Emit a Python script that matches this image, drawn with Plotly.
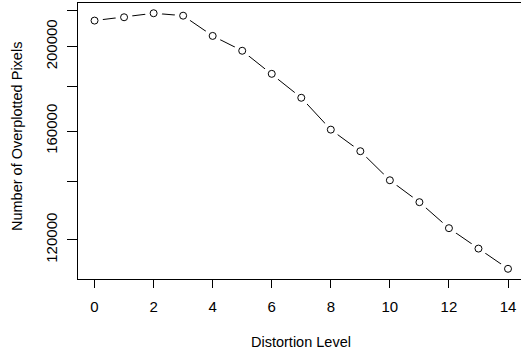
import plotly.graph_objects as go

distortion = list(range(15))
overplotted = [214200, 216100, 218400, 217000, 205700, 197800, 186100, 174700,
               160600, 151700, 140500, 132600, 123800, 117300, 111200]
x_ticks = [0, 2, 4, 6, 8, 10, 12, 14]
y_ticks = [120000, 140000, 160000, 180000, 200000, 220000]
y_tick_text = ["120000", "", "160000", "", "200000", ""]

FONT = "Liberation Sans, Arial, Helvetica, sans-serif"
FS = 15
TS = 14.5

fig = go.Figure()
fig.add_trace(go.Scatter(x=distortion, y=overplotted, mode="lines",
                         line=dict(color="black", width=1), hoverinfo="skip"))
fig.add_trace(go.Scatter(x=distortion, y=overplotted, mode="markers",
                         marker=dict(symbol="circle", size=17, color="white",
                                     line=dict(width=0)), hoverinfo="skip"))
fig.add_trace(go.Scatter(x=distortion, y=overplotted, mode="markers",
                         marker=dict(symbol="circle-open", size=7, color="black",
                                     line=dict(width=1, color="black"))))

L, T, B, W, H = 78, 3, 75, 521, 354
PW, PH = W - L, H - T - B

fig.update_layout(
    width=W, height=H,
    margin=dict(l=L, r=0, t=T, b=B, autoexpand=False),
    paper_bgcolor="white", plot_bgcolor="white",
    showlegend=False,
    font=dict(family=FONT, size=FS, color="black"),
    xaxis=dict(range=[-0.56, 14.44], tickvals=x_ticks, ticks="outside",
               ticklen=8, tickcolor="black", tickwidth=1, automargin=False,
               showline=True, linecolor="black", linewidth=1, mirror=True,
               showgrid=False, zeroline=False, ticklabelstandoff=6,
               tickfont=dict(family=FONT, size=FS)),
    yaxis=dict(type="log", range=[5.0344, 5.3510], tickvals=y_ticks,
               ticktext=y_tick_text, ticks="outside", ticklen=10,
               tickcolor="black", tickwidth=1, tickangle=-90, automargin=False,
               showline=True, linecolor="black", linewidth=1,
               showgrid=False, zeroline=False, ticklabelstandoff=4,
               tickfont=dict(family=FONT, size=FS)),
    annotations=[
        dict(text="Distortion Level", xref="paper", yref="paper",
             x=(301 - L) / PW, y=-(342 - (T + PH)) / PH,
             xanchor="center", yanchor="middle", showarrow=False,
             font=dict(family=FONT, size=TS)),
        dict(text="Number of Overplotted Pixels", xref="paper", yref="paper",
             x=(17 - L) / PW, y=((T + PH) - 137) / PH,
             xanchor="center", yanchor="middle", showarrow=False,
             textangle=-90, font=dict(family=FONT, size=TS)),
    ],
)

fig.write_html("out.html", config={"displayModeBar": False},
               post_script="document.body.style.margin='0';document.body.style.overflow='hidden';")
